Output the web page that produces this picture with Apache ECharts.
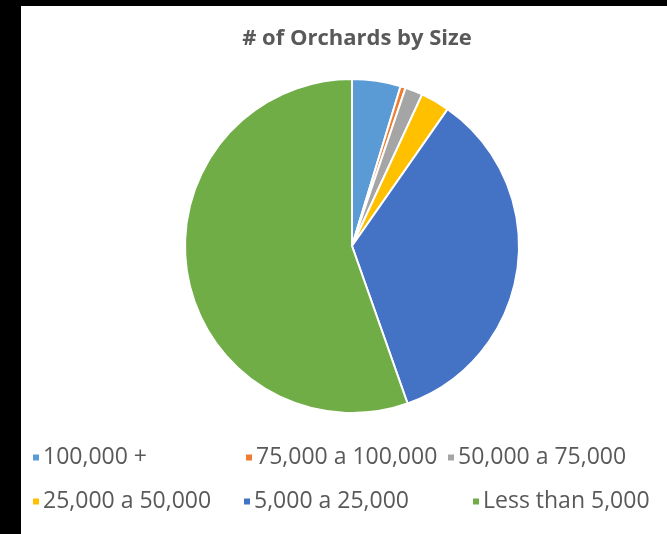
<!DOCTYPE html>
<html>
<head>
<meta charset="utf-8">
<script src="https://cdn.jsdelivr.net/npm/echarts@6/dist/echarts.min.js"></script>
<style>
html,body{margin:0;padding:0;background:#000;}
#c{width:667px;height:534px;}
</style>
</head>
<body>
<div id="c"></div>
<script>
const categories = ['100,000 +', '75,000 a 100,000', '50,000 a 75,000', '25,000 a 50,000', '5,000 a 25,000', 'Less than 5,000'];
const orchardCounts = [47, 5, 17, 28, 349, 554];
const colors = ['#5B9BD5', '#ED7D31', '#A5A5A5', '#FFC000', '#4472C4', '#70AD47'];
const titleText = '# of Orchards by Size';

const legendPos = [
  {left: 31, top: 446},
  {left: 244, top: 446},
  {left: 446, top: 446},
  {left: 31, top: 490},
  {left: 242, top: 490},
  {left: 471, top: 490}
];

const chart = echarts.init(document.getElementById('c'), null, {renderer: 'canvas'});
const legends = categories.map((name, i) => ({
  data: [name],
  left: legendPos[i].left,
  top: legendPos[i].top,
  icon: 'rect',
  itemWidth: 8,
  itemHeight: 8,
  padding: 0,
  selectedMode: false,
  textStyle: {color: '#595959', fontSize: 23, fontFamily: 'Open Sans', padding: [0, 0, 0, -2]}
}));

chart.setOption({
  animation: false,
  backgroundColor: '#000',
  graphic: [{
    type: 'rect', left: 21, top: 6, z: -10,
    shape: {width: 646, height: 528},
    style: {fill: '#fff'}
  }],
  title: {
    text: titleText,
    left: 352, top: 23,
    textAlign: 'center',
    textStyle: {color: '#595959', fontSize: 22, fontWeight: 'bold', fontFamily: 'Open Sans'}
  },
  legend: legends,
  series: [{
    type: 'pie',
    center: [352, 246],
    radius: 167,
    startAngle: 90,
    clockwise: true,
    label: {show: false},
    labelLine: {show: false},
    itemStyle: {borderColor: '#fff', borderWidth: 2},
    emphasis: {disabled: true},
    data: categories.map((name, i) => ({name, value: orchardCounts[i], itemStyle: {color: colors[i]}}))
  }]
});
</script>
</body>
</html>
